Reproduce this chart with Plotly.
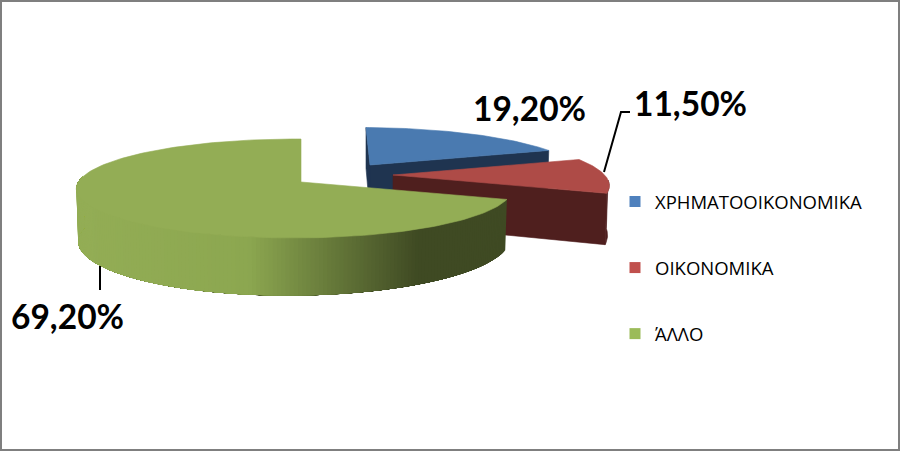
import math
import plotly.graph_objects as go

categories = ["ΧΡΗΜΑΤΟΟΙΚΟΝΟΜΙΚΑ", "ΟΙΚΟΝΟΜΙΚΑ", "ΆΛΛΟ"]
shares = [19.2, 11.5, 69.2]

legend_colors = ["#4F81BD", "#C0504D", "#9BBB59"]
top_colors = ["#4A7AB0", "#AE4B47", "#93AD55"]
side_colors = ["#1F3450", "#4F1F1E", "#3F4A23"]

# projection of each exploded slice: apex, radii, perspective, shear, depth
proj = [
    dict(x0=370, y0=165, A=212, B=45, p=0.2, q=0.03, s=4.8, H=49),
    dict(x0=393, y0=175, A=218, B=49.6, p=0.21, q=0.03, s=0, H=49),
    dict(x0=301, y0=182, A=216, B=48.6, p=0.131, q=0.03, s=0, H=50),
]

total = sum(shares)
bounds = [0.0]
for v in shares:
    bounds.append(bounds[-1] + v / total * 360)


def pt(k, deg, r=1.0, low=False):
    g = proj[k]
    t = math.radians(deg)
    u, v = r * math.sin(t), -r * math.cos(t)
    w = 1 - g["p"] * v + g["q"] * u
    x = g["x0"] + (g["A"] * u + g["s"] * v) / w
    y = g["y0"] + g["B"] * v / w
    if low:
        y += g["H"] / w
        x = g["x0"] + (x - g["x0"]) * 0.992
    return x, y


def arc(k, a, b, low=False, n=60):
    return [pt(k, a + (b - a) * i / n, low=low) for i in range(n + 1)]


fig = go.Figure()


def poly(points, color, width=0.6):
    xs = [p[0] for p in points] + [points[0][0]]
    ys = [p[1] for p in points] + [points[0][1]]
    fig.add_trace(go.Scatter(x=xs, y=ys, mode="lines", fill="toself", fillcolor=color,
                             line=dict(color=color, width=width), hoverinfo="skip",
                             showlegend=False))


def mix(c1, c2, f):
    a = [int(c1[i:i + 2], 16) for i in (1, 3, 5)]
    b = [int(c2[i:i + 2], 16) for i in (1, 3, 5)]
    return "rgb(%d,%d,%d)" % tuple(round(a[i] + (b[i] - a[i]) * f) for i in range(3))


# blue slice
a, b = bounds[0], bounds[1]
poly([pt(0, a), pt(0, a, 0), pt(0, a, 0, True), pt(0, a, low=True)], side_colors[0])
poly([pt(0, b), pt(0, b, 0), pt(0, b, 0, True), pt(0, b, low=True)], side_colors[0])
poly([pt(0, a, 0)] + arc(0, a, b), top_colors[0])

# red slice
a, b = bounds[1], bounds[2]
poly([pt(1, b), pt(1, b, 0), pt(1, b, 0, True), pt(1, b, low=True)], side_colors[1])
mid = (a + b) / 2 + 6
poly(arc(1, mid, b) + arc(1, mid, b, low=True)[::-1], side_colors[1])
poly([pt(1, a, 0)] + arc(1, a, b), top_colors[1])

# green slice: each band is painted from its start to the far end, so no seams show
a, b = bounds[2], bounds[3]
end_side = 276
steps = 170
for i in range(steps):
    d0 = a + (end_side - a) * i / steps
    xm = pt(2, d0)[0]
    if xm > 420:
        col = side_colors[2]
    elif xm > 250:
        col = mix(side_colors[2], "#8CA750", (420 - xm) / 170)
    else:
        col = mix("#8CA750", "#93AD55", (250 - xm) / 170)
    poly(arc(2, d0, end_side, n=40) + arc(2, d0, end_side, low=True, n=40)[::-1], col, width=0)
poly([pt(2, a, 0)] + arc(2, a, b, n=160), top_colors[2])

# legend entries
for name, col in zip(categories, legend_colors):
    fig.add_trace(go.Scatter(x=[None], y=[None], mode="markers", name=name, legendgroup=name,
                             marker=dict(symbol="square", size=11, color=col)))

# leaders
leader_color = "#000000"
fig.add_trace(go.Scatter(x=[100, 100], y=[266, 290], mode="lines", showlegend=False, hoverinfo="skip",
                         line=dict(color=leader_color, width=2)))
fig.add_trace(go.Scatter(x=[604, 621, 630], y=[172, 112, 112], mode="lines", showlegend=False, hoverinfo="skip",
                         line=dict(color=leader_color, width=2)))

label_pos = [(529, 108), (690, 103), (67, 316)]
for v, (lx, ly) in zip(shares, label_pos):
    fig.add_annotation(x=lx, y=ly, text="<b>" + f"{v:.2f}".replace(".", ",") + "%</b>", showarrow=False,
                       font=dict(family="Lato", size=33.5, color="#000000"),
                       xanchor="center", yanchor="middle")

fig.add_shape(type="rect", x0=1, x1=899, y0=1, y1=450, line=dict(color="#7F7F7F", width=2))

fig.update_layout(
    width=900, height=451, margin=dict(l=0, r=0, t=0, b=0),
    paper_bgcolor="#FFFFFF", plot_bgcolor="#FFFFFF",
    xaxis=dict(range=[0, 900], visible=False, fixedrange=True),
    yaxis=dict(range=[451, 0], visible=False, fixedrange=True),
    legend=dict(x=615 / 900, y=1 - 183 / 451, xanchor="left", yanchor="top",
                bgcolor="rgba(0,0,0,0)", tracegroupgap=39,
                font=dict(family="Open Sans", size=18.5, color="#000000")),
    showlegend=True,
)
fig.write_html("out.html", config={"displayModeBar": False},
               post_script="document.body.style.margin='0';document.body.style.overflow='hidden';")
